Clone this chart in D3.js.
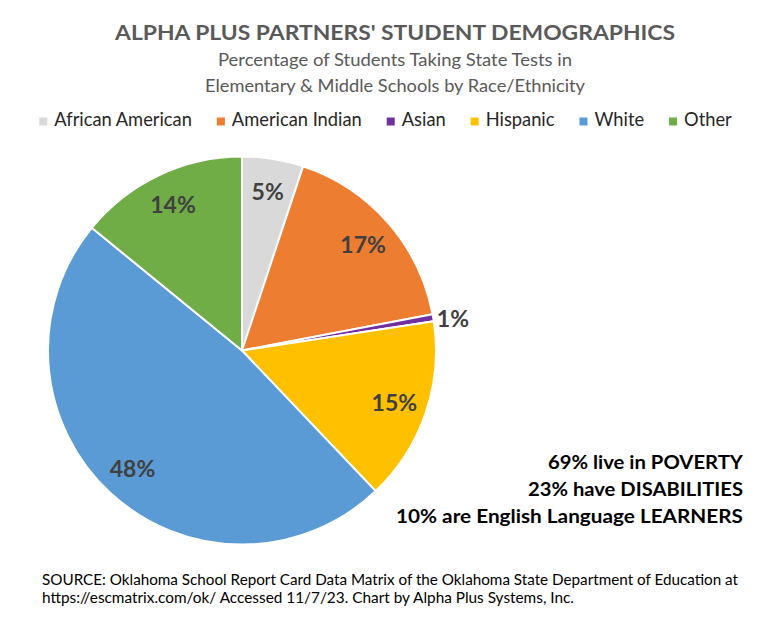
<!DOCTYPE html>
<html>
<head>
<meta charset="utf-8">
<script src="https://cdn.jsdelivr.net/npm/d3@7"></script>
<style>
  html, body { margin: 0; padding: 0; background: #fff; }
  svg { display: block; font-family: Lato, "Open Sans", sans-serif; }
</style>
</head>
<body>
<svg id="chart" width="774" height="625"></svg>
<script>
// ---- data ----
const categories = ["African American", "American Indian", "Asian", "Hispanic", "White", "Other"];
const values = [5.1, 16.9, 0.6, 15.3, 48.0, 14.1];
const sliceColors = ["#D9D9D9", "#ED7D31", "#7030A0", "#FFC000", "#5B9BD5", "#70AD47"];
const titleText = "ALPHA PLUS PARTNERS' STUDENT DEMOGRAPHICS";
const subtitleLines = ["Percentage of Students Taking State Tests in", "Elementary & Middle Schools by Race/Ethnicity"];
const noteLines = ["69% live in POVERTY", "23% have DISABILITIES", "10% are English Language LEARNERS"];
const sourceLines = [
  "SOURCE: Oklahoma School Report Card Data Matrix of the Oklahoma State Department of Education at",
  "https://escmatrix.com/ok/ Accessed 11/7/23. Chart by Alpha Plus Systems, Inc."
];

// ---- layout ----
const svg = d3.select("#chart");
const cx = 242, cy = 350.5, R = 194;

function fitText(sel, w) {
  sel.each(function () {
    const n = this.getComputedTextLength();
    if (Math.abs(n - w) > 1) {
      d3.select(this).attr("textLength", w).attr("lengthAdjust", "spacingAndGlyphs");
    }
  });
}

// Title
svg.append("text")
  .attr("x", 395).attr("y", 40)
  .attr("text-anchor", "middle")
  .attr("font-size", 20.5).attr("font-weight", 700)
  .attr("fill", "#595959")
  .text(titleText)
  .call(fitText, 560);

// Subtitle
const subW = [354, 380];
subtitleLines.forEach((t, i) => {
  svg.append("text")
    .attr("x", 395).attr("y", 65.5 + i * 26)
    .attr("text-anchor", "middle")
    .attr("font-size", 16.5)
    .attr("fill", "#595959")
    .text(t)
    .call(fitText, subW[i]);
});

// Legend
const color = d3.scaleOrdinal().domain(categories).range(sliceColors);
const legend = svg.append("g");
const items = legend.selectAll("g").data(categories).join("g");
items.append("rect").attr("width", 8).attr("height", 8).attr("y", -8.5).attr("fill", d => color(d));
items.append("text").attr("x", 15).attr("y", 0).attr("font-size", 18.3).attr("fill", "#262626").text(d => d);
let lx = 0;
items.each(function () {
  const w = d3.select(this).select("text").node().getComputedTextLength();
  d3.select(this).attr("transform", `translate(${lx},0)`);
  lx += 15 + w + 25;
});
const legendW = lx - 25;
legend.attr("transform", `translate(${385.5 - legendW / 2},126)`);

// Pie
const pie = d3.pie().sort(null).value(d => d.value);
const data = pie(categories.map((c, i) => ({ name: c, value: values[i] })));
const arc = d3.arc().innerRadius(0).outerRadius(R);
const g = svg.append("g").attr("transform", `translate(${cx},${cy})`);
g.selectAll("path").data(data).join("path")
  .attr("d", arc)
  .attr("fill", d => color(d.data.name))
  .attr("stroke", "#fff").attr("stroke-width", 2).attr("stroke-linejoin", "round");

const inArc = d3.arc().innerRadius(161).outerRadius(161);
const outArc = d3.arc().innerRadius(214).outerRadius(214);
const pct = d3.format(".0f");
g.selectAll("text.lbl").data(data).join("text")
  .attr("class", "lbl")
  .attr("transform", d => {
    const c = (d.data.value < 2 ? outArc : inArc).centroid(d);
    return `translate(${c[0]},${c[1] + (d.data.value < 2 ? 4 : 0)})`;
  })
  .attr("dy", "0.36em")
  .attr("text-anchor", "middle")
  .attr("font-size", 23).attr("font-weight", 700)
  .attr("fill", "#404040")
  .text(d => pct(d.data.value) + "%");

// Notes
const noteW = [195, 215, 347];
noteLines.forEach((t, i) => {
  svg.append("text")
    .attr("x", 743).attr("y", 469 + i * 27)
    .attr("text-anchor", "end")
    .attr("font-size", 19.5).attr("font-weight", 700)
    .attr("fill", "#000")
    .text(t)
    .call(fitText, noteW[i]);
});

// Source
const srcW = [696, 532];
sourceLines.forEach((t, i) => {
  svg.append("text")
    .attr("x", 42).attr("y", 585 + i * 18)
    .attr("font-size", 15)
    .attr("fill", "#000")
    .text(t)
    .call(fitText, srcW[i]);
});
</script>
</body>
</html>
